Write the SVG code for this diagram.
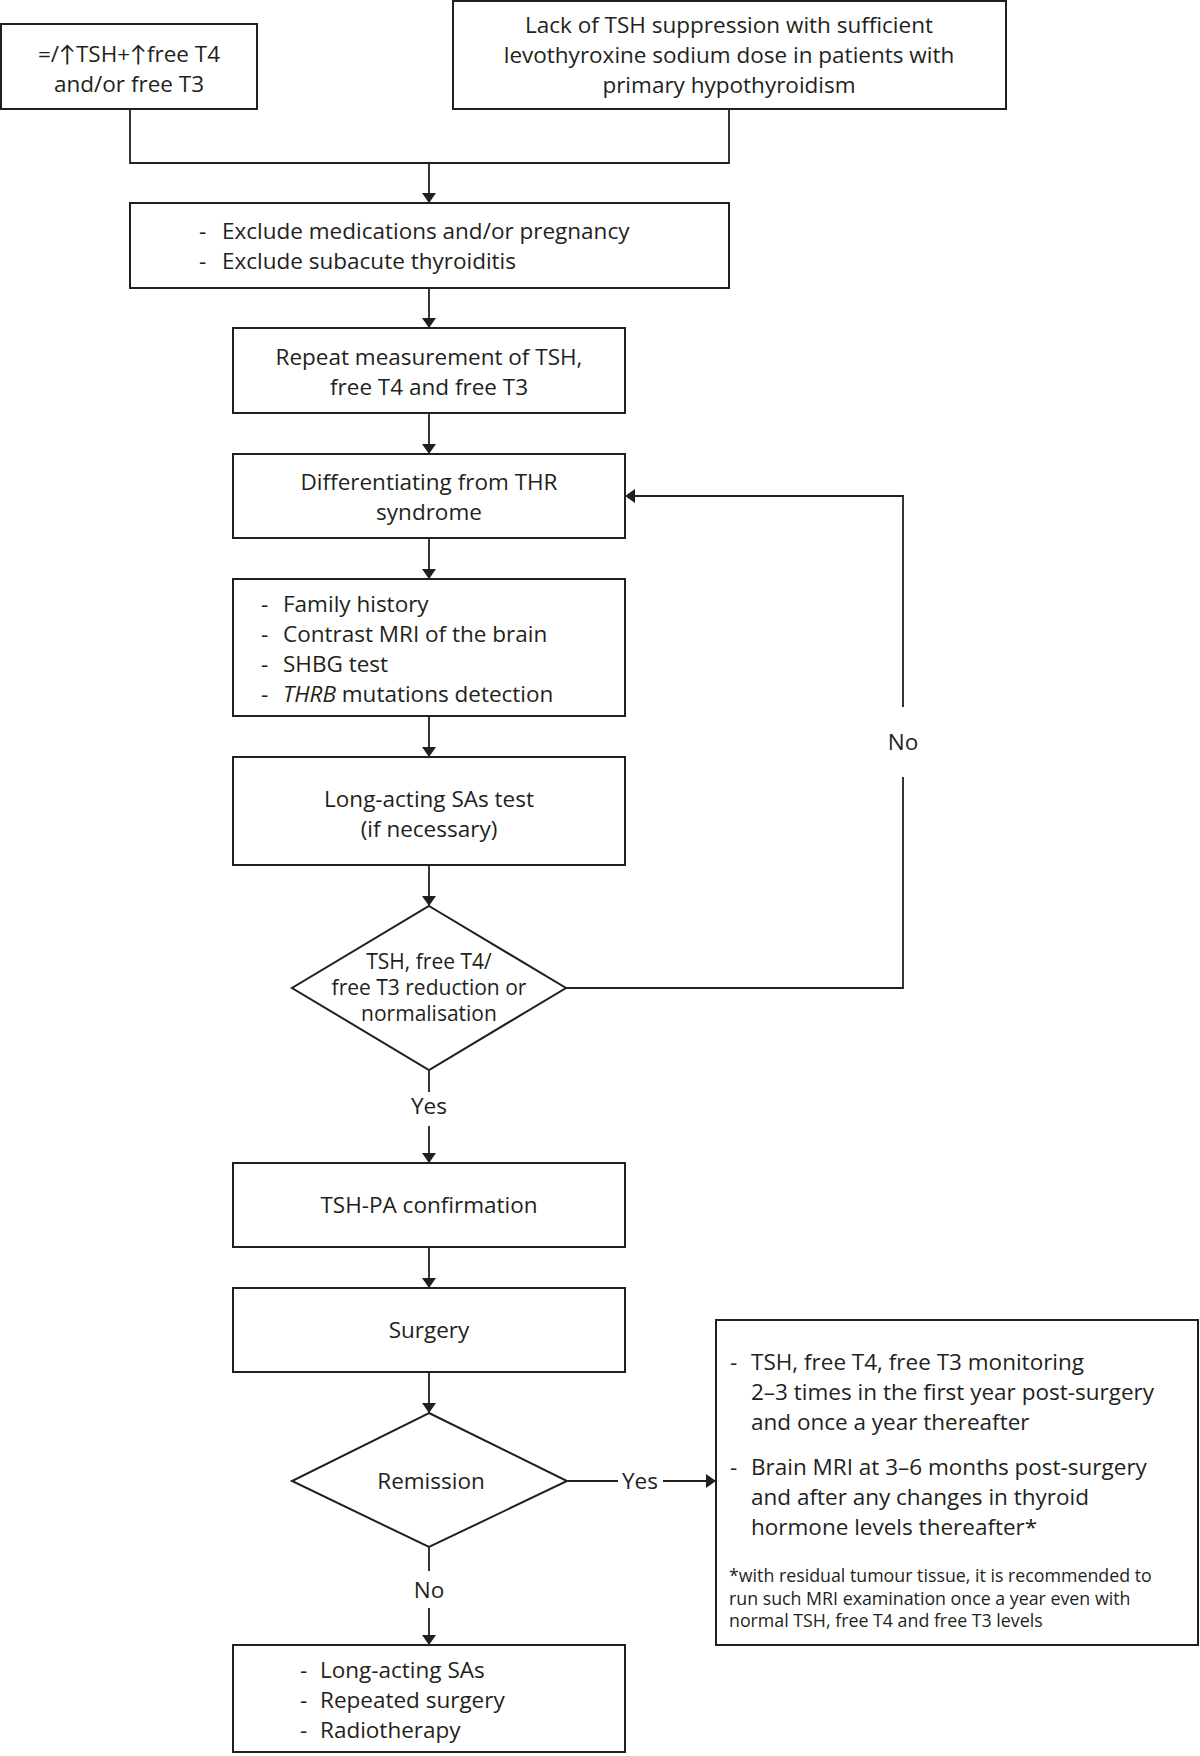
<svg xmlns="http://www.w3.org/2000/svg" width="1200" height="1756" viewBox="0 0 1200 1756">
<defs>
<marker id="ah" viewBox="0 0 10 14" refX="10" refY="7" markerWidth="11" markerHeight="14" markerUnits="userSpaceOnUse" orient="auto">
<path d="M0,0 L10,7 L0,14 Z" fill="#231f20"/>
</marker>
<style>
.box{fill:#fff;stroke:#231f20;stroke-width:2}
.ln{fill:none;stroke:#231f20;stroke-width:1.8}
.arr{fill:none;stroke:#231f20;stroke-width:1.8;marker-end:url(#ah)}
text{font-family:"Open Sans",Lato,"DejaVu Sans",sans-serif;font-size:22.5px;fill:#231f20}
.c{text-anchor:middle}
.fn{font-size:17.8px}
.d{font-size:21px}
</style>
</defs>
<rect width="1200" height="1756" fill="#fff"/>
<g id="connectors">
<polyline class="ln" points="130,110 130,163 729,163 729,110"/>
<line class="arr" x1="429" y1="163" x2="429" y2="203"/>
<line class="arr" x1="429" y1="288" x2="429" y2="328"/>
<line class="arr" x1="429" y1="413" x2="429" y2="454"/>
<line class="arr" x1="429" y1="538" x2="429" y2="579"/>
<line class="arr" x1="429" y1="716" x2="429" y2="757"/>
<line class="arr" x1="429" y1="865" x2="429" y2="906"/>
<polyline class="ln" points="566,988 903,988 903,777"/>
<polyline class="arr" points="903,707 903,496 625,496"/>
<line class="ln" x1="429" y1="1070" x2="429" y2="1092"/>
<line class="arr" x1="429" y1="1126" x2="429" y2="1163"/>
<line class="arr" x1="429" y1="1247" x2="429" y2="1288"/>
<line class="arr" x1="429" y1="1372" x2="429" y2="1413"/>
<line class="ln" x1="567" y1="1481" x2="618" y2="1481"/>
<line class="arr" x1="663" y1="1481" x2="716" y2="1481"/>
<line class="ln" x1="429" y1="1547" x2="429" y2="1571"/>
<line class="arr" x1="429" y1="1608" x2="429" y2="1645"/>
<text class="c" x="903" y="750">No</text>
<text class="c" x="429" y="1114">Yes</text>
<text class="c" x="640" y="1489">Yes</text>
<text class="c" x="429" y="1598">No</text>
</g>
<g id="n1">
<rect class="box" x="1" y="24" width="256" height="85"/>
<text class="c" x="129" y="62">=/↑TSH+↑free T4</text>
<text class="c" x="129" y="92">and/or free T3</text>
</g>
<g id="n2">
<rect class="box" x="453" y="1" width="553" height="108"/>
<text class="c" x="729" y="33">Lack of TSH suppression with sufficient</text>
<text class="c" x="729" y="63">levothyroxine sodium dose in patients with</text>
<text class="c" x="729" y="93">primary hypothyroidism</text>
</g>
<g id="n3">
<rect class="box" x="130" y="203" width="599" height="85"/>
<text x="199" y="239">-</text><text x="222" y="239">Exclude medications and/or pregnancy</text>
<text x="199" y="269">-</text><text x="222" y="269">Exclude subacute thyroiditis</text>
</g>
<g id="n4">
<rect class="box" x="233" y="328" width="392" height="85"/>
<text class="c" x="429" y="365">Repeat measurement of TSH,</text>
<text class="c" x="429" y="395">free T4 and free T3</text>
</g>
<g id="n5">
<rect class="box" x="233" y="454" width="392" height="84"/>
<text class="c" x="429" y="490">Differentiating from THR</text>
<text class="c" x="429" y="520">syndrome</text>
</g>
<g id="n6">
<rect class="box" x="233" y="579" width="392" height="137"/>
<text x="261" y="612">-</text><text x="283" y="612">Family history</text>
<text x="261" y="642">-</text><text x="283" y="642">Contrast MRI of the brain</text>
<text x="261" y="672">-</text><text x="283" y="672">SHBG test</text>
<text x="261" y="702">-</text><text x="283" y="702"><tspan font-style="italic">THRB</tspan> mutations detection</text>
</g>
<g id="n7">
<rect class="box" x="233" y="757" width="392" height="108"/>
<text class="c" x="429" y="807">Long-acting SAs test</text>
<text class="c" x="429" y="837">(if necessary)</text>
</g>
<g id="n8">
<polygon class="box" points="429,906 566,988 429,1070 292,988"/>
<text class="c d" x="429" y="969">TSH, free T4/</text>
<text class="c d" x="429" y="995">free T3 reduction or</text>
<text class="c d" x="429" y="1021">normalisation</text>
</g>
<g id="n9">
<rect class="box" x="233" y="1163" width="392" height="84"/>
<text class="c" x="429" y="1213">TSH-PA confirmation</text>
</g>
<g id="n10">
<rect class="box" x="233" y="1288" width="392" height="84"/>
<text class="c" x="429" y="1338">Surgery</text>
</g>
<g id="n11">
<polygon class="box" points="429,1413 567,1481 429,1547 292,1481"/>
<text class="c" x="431" y="1489">Remission</text>
</g>
<g id="n12">
<rect class="box" x="233" y="1645" width="392" height="107"/>
<text x="300" y="1678">-</text><text x="320" y="1678">Long-acting SAs</text>
<text x="300" y="1708">-</text><text x="320" y="1708">Repeated surgery</text>
<text x="300" y="1738">-</text><text x="320" y="1738">Radiotherapy</text>
</g>
<g id="n13">
<rect class="box" x="716" y="1320" width="482" height="325"/>
<text x="730" y="1370">-</text><text x="751" y="1370">TSH, free T4, free T3 monitoring</text>
<text x="751" y="1400">2–3 times in the first year post-surgery</text>
<text x="751" y="1430">and once a year thereafter</text>
<text x="730" y="1475">-</text><text x="751" y="1475">Brain MRI at 3–6 months post-surgery</text>
<text x="751" y="1505">and after any changes in thyroid</text>
<text x="751" y="1535">hormone levels thereafter*</text>
<text class="fn" x="729" y="1582">*with residual tumour tissue, it is recommended to</text>
<text class="fn" x="729" y="1605">run such MRI examination once a year even with</text>
<text class="fn" x="729" y="1627">normal TSH, free T4 and free T3 levels</text>
</g>
</svg>
